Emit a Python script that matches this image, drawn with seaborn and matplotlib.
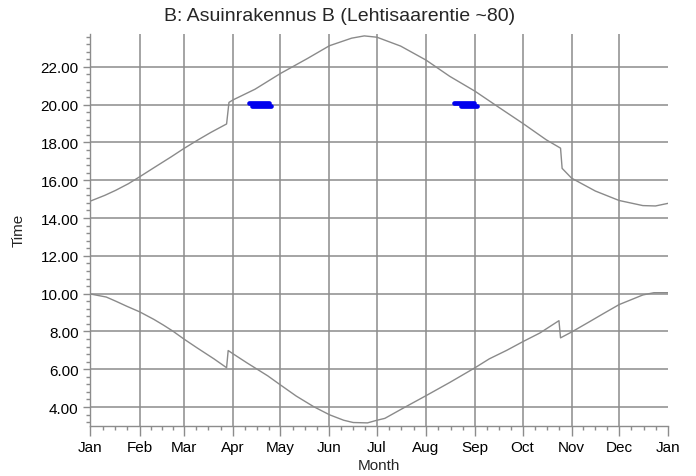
import numpy as np
import pandas as pd
import matplotlib
matplotlib.use('Agg')
import matplotlib.pyplot as plt
from matplotlib.ticker import FixedLocator, MultipleLocator, FormatStrFormatter
import seaborn as sns

sns.set_style('white')
plt.rcParams['font.family'] = ['Liberation Sans', 'DejaVu Sans']

# month starts (day of year) and labels
month_days = [0, 31, 59, 90, 120, 151, 181, 212, 243, 273, 304, 334, 365]
month_labels = ['Jan', 'Feb', 'Mar', 'Apr', 'May', 'Jun', 'Jul', 'Aug',
                'Sep', 'Oct', 'Nov', 'Dec', 'Jan']

# sunset (upper curve), hours
sunset_day = [0, 9, 16, 24, 31, 40, 51, 59, 68, 76, 86, 87.5, 90, 104, 120,
              137, 151, 165, 173, 181, 196, 212, 227, 243, 258, 273, 288, 297,
              298, 304, 319, 334, 349, 357, 365]
sunset_time = [14.90, 15.20, 15.47, 15.82, 16.18, 16.66, 17.24, 17.68, 18.14,
               18.53, 18.98, 20.12, 20.25, 20.82, 21.65, 22.44, 23.12, 23.52,
               23.64, 23.57, 23.10, 22.36, 21.50, 20.71, 19.86, 19.02, 18.14,
               17.70, 16.63, 16.11, 15.43, 14.93, 14.66, 14.64, 14.78]

# sunrise (lower curve), hours
sunrise_day = [0, 10, 16, 23, 31, 40, 46, 52, 59, 67, 78, 86, 87, 90, 99, 112,
               120, 130, 141, 151, 160, 166, 175, 181, 186, 198, 212, 227, 243,
               252, 263, 273, 284, 296, 297, 304, 315, 324, 334, 349, 356, 365]
sunrise_time = [9.98, 9.82, 9.60, 9.33, 9.04, 8.64, 8.34, 8.02, 7.60, 7.15,
                6.55, 6.08, 6.99, 6.82, 6.33, 5.65, 5.17, 4.58, 4.02, 3.59,
                3.30, 3.18, 3.16, 3.30, 3.40, 3.96, 4.60, 5.30, 6.08, 6.55,
                7.00, 7.45, 7.92, 8.57, 7.66, 7.97, 8.50, 8.94, 9.42, 9.93,
                10.05, 10.05]

# blue marks around 20:00
mark_day = [[100, 112.5], [102, 114], [230, 242.5], [234, 244]]
mark_time = [20.08, 19.93, 20.08, 19.93]

upper = pd.DataFrame({'day': sunset_day, 'time': sunset_time})
lower = pd.DataFrame({'day': sunrise_day, 'time': sunrise_time})

fig = plt.figure(figsize=(6.96, 4.77), dpi=100)
ax = fig.add_axes([0.130, 0.105, 0.830, 0.822])

gridc = '#8c8c8c'
linec = '#8a8a8a'

sns.lineplot(data=upper, x='day', y='time', ax=ax, color=linec, lw=1.0,
             estimator=None, sort=False)
sns.lineplot(data=lower, x='day', y='time', ax=ax, color=linec, lw=1.0,
             estimator=None, sort=False)
for d, t in zip(mark_day, mark_time):
    ax.plot(d, [t, t], color='#0000ee', lw=3.4, solid_capstyle='round')

ax.set_xlim(0, 365)
ax.set_ylim(3.0, 23.75)

ax.xaxis.set_major_locator(FixedLocator(month_days))
ax.set_xticklabels(month_labels)
minor = []
for a, b in zip(month_days[:-1], month_days[1:]):
    minor += [a + (b - a) * k / 4 for k in (1, 2, 3)]
ax.xaxis.set_minor_locator(FixedLocator(minor))

ax.yaxis.set_minor_locator(MultipleLocator(0.4))
ax.set_yticks([4, 6, 8, 10, 12, 14, 16, 18, 20, 22])
ax.yaxis.set_major_formatter(FormatStrFormatter('%.2f'))

ax.grid(True, which='major', color=gridc, lw=1.1)
ax.xaxis.get_gridlines()[-1].set_visible(False)
ax.xaxis.get_gridlines()[0].set_visible(False)

ax.tick_params(which='both', direction='out', color=gridc, labelsize=11,
               labelcolor='black', bottom=True, left=True)
ax.tick_params(which='major', length=5, width=1)
ax.tick_params(which='minor', length=3, width=1)
ax.tick_params(axis='x', which='major', length=7, pad=3)

for s in ['top', 'right']:
    ax.spines[s].set_visible(False)
for s in ['left', 'bottom']:
    ax.spines[s].set_color(gridc)
    ax.spines[s].set_linewidth(1.0)

ax.set_xlabel('Month', fontsize=11, labelpad=3)
ax.set_ylabel('Time', fontsize=11, labelpad=11)
fig.text(340 / 696, 1 - 21 / 477, 'B: Asuinrakennus B (Lehtisaarentie ~80)',
         fontsize=14, ha='center', va='baseline')

fig.savefig('out.png', dpi=100)
